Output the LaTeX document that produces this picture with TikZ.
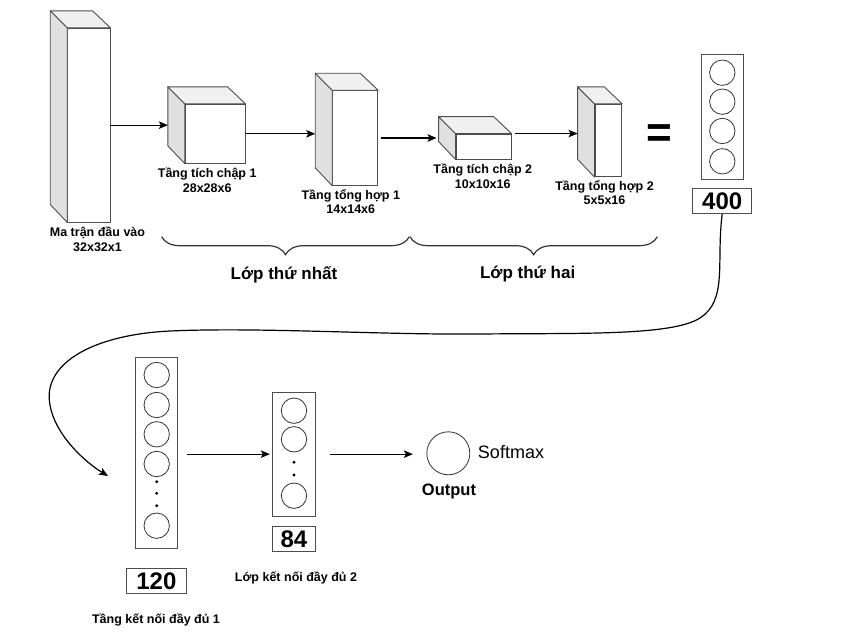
\documentclass[tikz,border=0pt]{standalone}
\usepackage{fontspec}
\setmainfont{Liberation Sans}
\usetikzlibrary{arrows.meta,decorations.pathreplacing}
\definecolor{edgegray}{HTML}{4D4D4D}
\definecolor{sidegray}{HTML}{E0E0E0}
\definecolor{topgray}{HTML}{F0F0F0}
\begin{document}
\begin{tikzpicture}[x=1pt,y=-1pt,
    >={Stealth[length=9pt,width=7.5pt,inset=2pt]},
    front/.style={draw=edgegray,line width=0.9pt,fill=white,inner sep=0pt},
    face/.style={draw=edgegray,line width=0.9pt,line join=round},
    lbl/.style={font=\fontsize{12.5}{14.8}\selectfont\bfseries,align=center,inner sep=0pt},
    big/.style={font=\fontsize{17}{20}\selectfont\bfseries,inner sep=0pt},
    num/.style={draw=edgegray,line width=0.9pt,font=\fontsize{24}{24}\selectfont\bfseries,inner sep=0pt},
    vec/.style={draw=edgegray,line width=0.9pt,inner sep=0pt},
    unit/.style={draw=black!80,line width=0.8pt,circle,inner sep=0pt,minimum size=25.4pt},
    brc/.style={draw=black!80,line width=1.2pt,decorate,decoration={brace,mirror,amplitude=18pt}},
    conn/.style={->,line width=1.3pt}]
  \useasboundingbox (0,0) rectangle (849,642);
  % feature maps
  \foreach \name/\cx/\cy/\w/\h in {input/88.85/125.15/42.3/193.7, conv1/215.15/133.8/59.7/59,
      pool1/355.2/138/45/94.6, conv2/483.5/146.5/55/25, pool2/608.35/140.5/26.7/72.4}{
    \node[front,minimum width=\w pt,minimum height=\h pt] (\name) at (\cx,\cy) {};
    \filldraw[face,fill=sidegray] (\name.north west) -- ++(-17,-17) -- ++(0,\h) -- (\name.south west) -- cycle;
    \filldraw[face,fill=topgray] (\name.north west) -- ++(-17,-17) -- ++(\w,0) -- (\name.north east) -- cycle;
    \path (\name.west) ++(-17,0) coordinate (\name-back);
  }
  \node[lbl] (inputlbl) at (97.5,239) {Ma trận đầu vào\\32x32x1};
  \node[lbl] (conv1lbl) at (207.2,180.5) {Tầng tích chập 1\\28x28x6};
  \node[lbl] (pool1lbl) at (350.8,201.5) {Tầng tổng hợp 1\\14x14x6};
  \node[lbl] (conv2lbl) at (482.8,176.5) {Tầng tích chập 2\\10x10x16};
  \node[lbl] (pool2lbl) at (604.5,192.5) {Tầng tổng hợp 2\\5x5x16};
  \draw[conn] (input.east) -- (input.east -| conv1-back);
  \draw[conn] (conv1.east) -- (conv1.east -| pool1-back);
  \draw[conn,shorten <=3pt,shorten >=2pt] (pool1.east) -- (pool1.east -| conv2-back);
  \draw[conn,shorten <=4pt] (conv2.north east) -- (conv2.north east -| pool2-back);
  % braces
  \draw[brc] (161.7,236.7) -- (409.3,236.7);
  \draw[brc] (410,236.7) -- (657.3,236.7);
  \node[big] (layer1) at (284,274.5) {Lớp thứ nhất};
  \node[big] (layer2) at (527.7,274.5) {Lớp thứ hai};
  \node[font=\fontsize{44}{44}\selectfont\bfseries,inner sep=0pt] (eq) at (659,136) {=};
  % flattened vector
  \node[vec,minimum width=42.7pt,minimum height=124.7pt] (flat) at (722.35,116.65) {};
  \foreach \y [count=\i] in {72.7,101.7,131,161.3}
    \node[unit] (flat\i) at (722.3,\y) {};
  \node[num,minimum width=59pt,minimum height=25.4pt] (n400) at (722.2,201) {400};
  % fully connected
  \node[vec,minimum width=41.6pt,minimum height=191pt] (fc1) at (156.5,452.8) {};
  \foreach \y [count=\i] in {375,405,434.3,464,525.7}
    \node[unit] (fc1u\i) at (156.7,\y) {};
  \foreach \y in {481.7,493.3,505.7}
    \fill (156.7,\y) circle (1.6);
  \node[num,minimum width=59.3pt,minimum height=25pt] (n120) at (156.35,580.8) {120};
  \node[lbl] (fc1lbl) at (156,620) {Tầng kết nối đầy đủ 1};
  \node[vec,minimum width=43.4pt,minimum height=123.7pt] (fc2) at (294,454.15) {};
  \foreach \y [count=\i] in {410.7,439.3,495.7}
    \node[unit] (fc2u\i) at (294,\y) {};
  \foreach \y in {462.3,475}
    \fill (294,\y) circle (1.6);
  \node[num,minimum width=43.4pt,minimum height=25pt] (n84) at (294,539.2) {84};
  \node[lbl] (fc2lbl) at (296,578) {Lớp kết nối đầy đủ 2};
  \node[unit,minimum size=43pt] (out) at (448.3,453.3) {};
  \node[font=\fontsize{18}{18}\selectfont,inner sep=0pt] (softmax) at (511,451.7) {Softmax};
  \node[font=\fontsize{16.5}{18}\selectfont\bfseries,inner sep=0pt] (outlbl) at (449,491.5) {Output};
  \coordinate (fc1in) at (108,476);
  \draw[conn,line width=1.2pt] (n400.south) .. controls (716,262) and (728,300) .. (700,318)
    .. controls (672,336) and (580,333) .. (480,334)
    .. controls (380,335) and (260,327) .. (170,331)
    .. controls (90,335) and (42,365) .. (50,405)
    .. controls (55,435) and (85,462) .. (fc1in);
  \draw[conn,shorten <=9pt,shorten >=2pt] (fc1.east |- fc2) -- (fc2.west);
  \draw[conn,shorten <=13.6pt,shorten >=13.5pt] (fc2.east) -- (fc2.east -| out.west);
\end{tikzpicture}
\end{document}
